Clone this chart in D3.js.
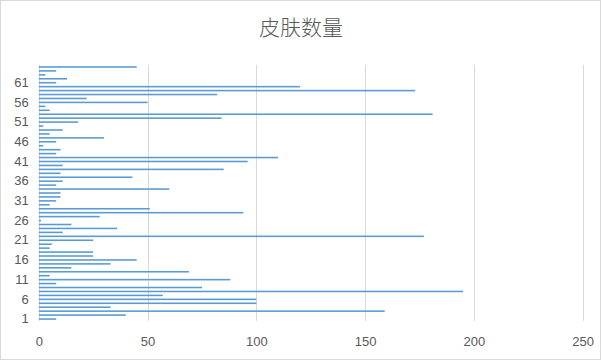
<!DOCTYPE html>
<html><head><meta charset="utf-8">
<script src="https://cdn.jsdelivr.net/npm/d3@7"></script>
<style>body{margin:0;background:#fff}svg{display:block}</style>
</head><body>
<svg id="c" width="602" height="362"></svg>
<script>
const title = "皮肤数量";
const categories = d3.range(1, 66).map(String);
const values = [8,40,159,33,100,100,57,195,75,8,
                88,5,69,15,33,45,25,25,5,6,
                25,177,11,36,15,1,28,94,51,5,
                8,10,10,60,8,11,43,10,85,11,
                96,110,8,10,2,8,30,5,11,2,
                18,84,181,5,3,50,22,82,173,120,
                8,13,3,8,45];
const xTicks = [0,50,100,150,200,250];
const yTickLabels = ["1","6","11","16","21","26","31","36","41","46","51","56","61"];

const svg = d3.select("#c");
const W = 602, H = 362;
const m = {left:38.8, right:19.3, top:65, bottom:41};
svg.append("rect").attr("x",0.5).attr("y",0.5).attr("width",W-2).attr("height",H-3)
  .attr("fill","#fff").attr("stroke","#d9d9d9");

const x = d3.scaleLinear().domain([0,250]).range([m.left, W-m.right]);
const y = d3.scaleBand().domain(categories).range([H-m.bottom, m.top]).paddingInner(0.6).paddingOuter(0.3);

// gridlines
svg.append("g").selectAll("line").data(xTicks).join("line")
  .attr("x1",d=>Math.round(x(d))+0.5).attr("x2",d=>Math.round(x(d))+0.5)
  .attr("y1",m.top).attr("y2",H-m.bottom)
  .attr("stroke","#d9d9d9").attr("stroke-width",1);

// bars
svg.append("g").selectAll("rect").data(values).join("rect")
  .attr("x",x(0)).attr("y",(d,i)=>y(categories[i]))
  .attr("width",d=>x(d)-x(0)).attr("height",y.bandwidth())
  .attr("fill","#5b9bd5");

// x axis labels
const xa = d3.axisBottom(x).tickValues(xTicks).tickSize(0).tickPadding(16);
const gx = svg.append("g").attr("transform",`translate(0,${H-m.bottom})`).call(xa);
gx.select(".domain").remove();
gx.selectAll("text").attr("fill","#595959").style("font-family","'Liberation Sans', Arial, sans-serif").style("font-size","13px");

// y axis labels
const ya = d3.axisLeft(y).tickValues(yTickLabels).tickSize(0).tickPadding(10);
const gy = svg.append("g").attr("transform",`translate(${m.left},0)`).call(ya);
gy.select(".domain").remove();
gy.selectAll("text").attr("fill","#595959").style("font-family","'Liberation Sans', Arial, sans-serif").style("font-size","13px");

// title
svg.append("text").attr("x",301).attr("y",35).attr("text-anchor","middle")
  .attr("fill","#595959").style("font-family","'Noto Sans CJK SC', sans-serif")
  .style("font-size","21px").style("font-weight","300").text(title);
</script>
</body></html>
